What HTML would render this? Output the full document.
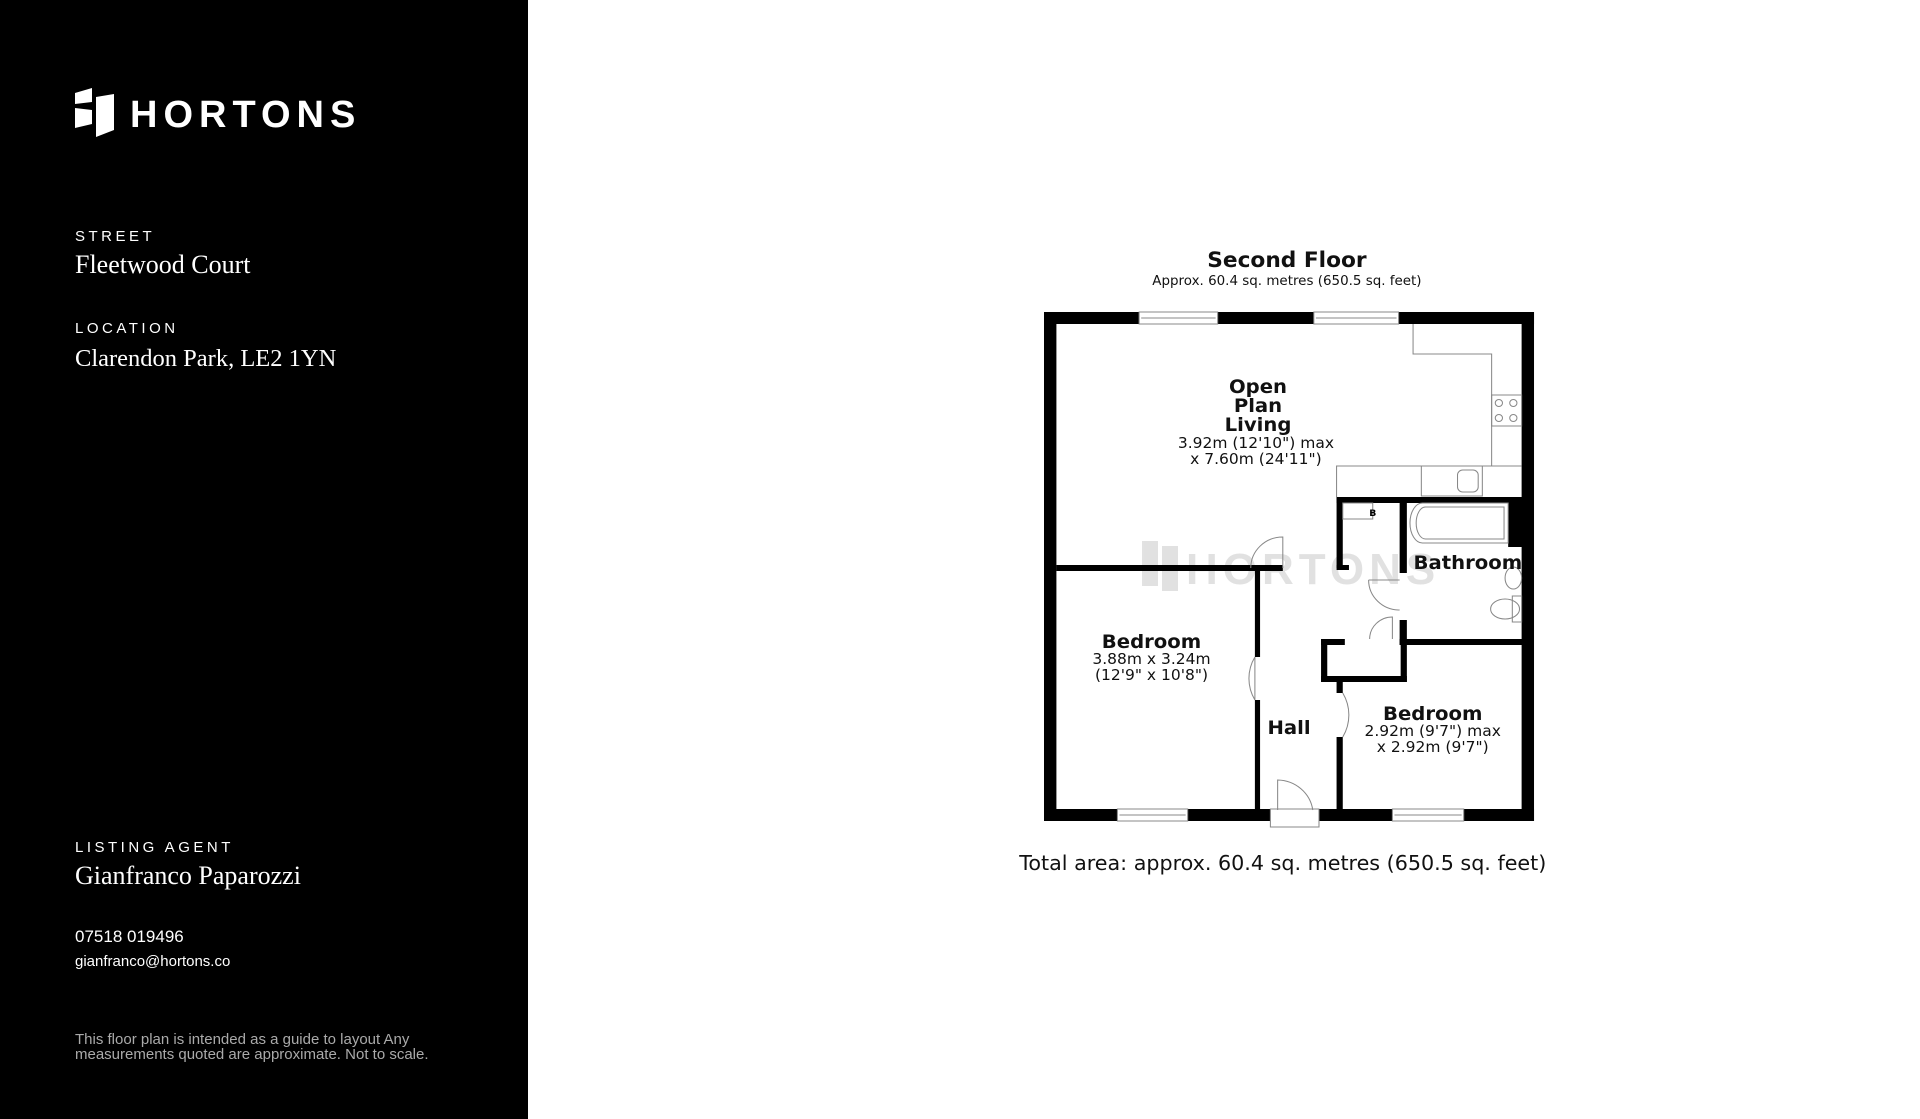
<!DOCTYPE html>
<html><head><meta charset="utf-8"><style>
html,body{margin:0;padding:0;width:1920px;height:1119px;overflow:hidden;background:#fff}
svg{display:block}
.l{font-family:"Liberation Sans",sans-serif;fill:#fff}
.p{font-family:"DejaVu Sans",sans-serif;fill:#111;text-anchor:middle}
</style></head><body>
<svg width="1920" height="1119" viewBox="0 0 1920 1119" xmlns="http://www.w3.org/2000/svg">
<rect x="0" y="0" width="528" height="1119" fill="#000"/>
<polygon points="75,93 92,88 92,102 75,104" fill="#fff"/>
<polygon points="75,108 92,110 92,124 75,128" fill="#fff"/>
<polygon points="96,97 114,94 114,130 96,137" fill="#fff"/>
<text x="130" y="127" class="l" font-size="38" font-weight="600" letter-spacing="6">HORTONS</text>
<text x="75" y="241" class="l" font-size="15" letter-spacing="3.5">STREET</text>
<text x="75" y="273" class="l" font-size="26" style="font-family:'Liberation Serif',serif">Fleetwood Court</text>
<text x="75" y="333" class="l" font-size="15" letter-spacing="3.5">LOCATION</text>
<text x="75" y="366" class="l" font-size="24.5" style="font-family:'Liberation Serif',serif">Clarendon Park, LE2 1YN</text>
<text x="75" y="852" class="l" font-size="15" letter-spacing="3.5">LISTING AGENT</text>
<text x="75" y="884" class="l" font-size="26" style="font-family:'Liberation Serif',serif">Gianfranco Paparozzi</text>
<text x="75" y="942" class="l" font-size="17">07518 019496</text>
<text x="75" y="966" class="l" font-size="15">gianfranco@hortons.co</text>
<text x="75" y="1044" class="l" font-size="15" style="fill:#aaa">This floor plan is intended  as a guide to layout Any</text>
<text x="75" y="1059" class="l" font-size="15" style="fill:#aaa">measurements quoted are approximate. Not to scale.</text>

<g opacity="0.14">
<rect x="1142" y="541" width="16" height="45" fill="#333"/>
<rect x="1162" y="546" width="16" height="45" fill="#333"/>
<text x="1186" y="584" font-family="Liberation Sans" font-size="44" font-weight="bold" letter-spacing="5" fill="#333">HORTONS</text>
</g>

<g transform="translate(1044,0) scale(1.0338,1) translate(-1044,0)">
<text x="1279" y="267" class="p" font-size="21" font-weight="bold">Second Floor</text>
<text x="1279" y="285" class="p" font-size="13">Approx. 60.4 sq. metres (650.5 sq. feet)</text>
<g fill="#000">
<rect x="1044" y="312" width="474" height="12"/>
<rect x="1044" y="312" width="12" height="509"/>
<rect x="1506" y="312" width="12" height="509"/>
<rect x="1044" y="809" width="474" height="12"/>
<rect x="1327" y="497" width="180" height="6"/>
<rect x="1493" y="497" width="14" height="50"/>
<rect x="1327" y="497" width="6" height="71"/>
<rect x="1327" y="565" width="12" height="5"/>
<rect x="1388" y="497" width="7" height="76"/>
<rect x="1056" y="565" width="219" height="6"/>
<rect x="1248" y="568" width="5" height="89"/>
<rect x="1248" y="700" width="5" height="109"/>
<rect x="1388" y="639" width="119" height="6"/>
<rect x="1388" y="620" width="7" height="25"/>
<rect x="1312" y="639" width="6" height="43"/>
<rect x="1312" y="639" width="23" height="6"/>
<rect x="1312" y="676" width="83" height="6"/>
<rect x="1389" y="639" width="6" height="43"/>
<rect x="1327" y="680" width="6" height="13"/>
<rect x="1327" y="737" width="6" height="72"/>
</g>
<g fill="#fff" stroke="#888" stroke-width="1">
<rect x="1136" y="312" width="76" height="12"/>
<rect x="1305" y="312" width="82" height="12"/>
<rect x="1115" y="809" width="68" height="12"/>
<rect x="1381" y="809" width="69" height="12"/>
<rect x="1263" y="809" width="47" height="18"/>
</g>
<g stroke="#888" stroke-width="1">
<line x1="1138" y1="318" x2="1210" y2="318"/><line x1="1307" y1="318" x2="1385" y2="318"/>
<line x1="1117" y1="815" x2="1181" y2="815"/><line x1="1383" y1="815" x2="1448" y2="815"/>
</g>
<g fill="none" stroke="#888" stroke-width="1">
<polyline points="1401,324 1401,354 1477,354 1477,466"/>
<polyline points="1327,497 1327,466 1506,466"/>
<rect x="1477" y="395" width="29" height="31"/>
<circle cx="1484" cy="403" r="3.5"/><circle cx="1498" cy="403" r="3.5"/>
<circle cx="1484" cy="418" r="3.5"/><circle cx="1498" cy="418" r="3.5"/>
<rect x="1409" y="466" width="59" height="30"/>
<rect x="1444" y="470" width="20" height="22" rx="5"/>
<rect x="1333" y="503" width="29" height="16"/>
<path d="M1410,503 H1493 V543 H1410 A12,20 0 0 1 1410,503 Z"/>
<path d="M1413,507 H1489 V539 H1413 A9,16 0 0 1 1413,507 Z"/>
<ellipse cx="1498" cy="578" rx="8" ry="11"/>
<ellipse cx="1490" cy="609" rx="14" ry="10"/>
<rect x="1497" y="596" width="9" height="26"/>
<path d="M1275,568 L1275,537 A31,31 0 0 0 1244,568"/>
<path d="M1358,580 A30,30 0 0 0 1388,610"/>
<line x1="1358" y1="580" x2="1388" y2="580"/>
<path d="M1359,639 A22,22 0 0 1 1381,617 L1381,639"/>
<path d="M1248,657 A43,43 0 0 0 1248,700 M1248,657 L1248,700"/>
<path d="M1333,693 A44,44 0 0 1 1333,737"/>
<path d="M1270,810 L1270,780 A35,35 0 0 1 1304,810"/>
</g>
<text x="1362" y="516" font-family="DejaVu Sans" font-size="9" font-weight="bold" text-anchor="middle">B</text>
<text x="1251" y="393" class="p" font-size="19" font-weight="bold">Open</text>
<text x="1251" y="412" class="p" font-size="19" font-weight="bold">Plan</text>
<text x="1251" y="431" class="p" font-size="19" font-weight="bold">Living</text>
<text x="1249" y="448" class="p" font-size="15">3.92m (12'10") max</text>
<text x="1249" y="464" class="p" font-size="15">x 7.60m (24'11")</text>
<text x="1454" y="569" class="p" font-size="19" font-weight="bold">Bathroom</text>
<text x="1148" y="648" class="p" font-size="19" font-weight="bold">Bedroom</text>
<text x="1148" y="664" class="p" font-size="15">3.88m x 3.24m</text>
<text x="1148" y="680" class="p" font-size="15">(12'9" x 10'8")</text>
<text x="1281" y="734" class="p" font-size="19" font-weight="bold">Hall</text>
<text x="1420" y="720" class="p" font-size="19" font-weight="bold">Bedroom</text>
<text x="1420" y="736" class="p" font-size="15">2.92m (9'7") max</text>
<text x="1420" y="752" class="p" font-size="15">x 2.92m (9'7")</text>
<text x="1275" y="870" class="p" font-size="20">Total area: approx. 60.4 sq. metres (650.5 sq. feet)</text>
</g>
</svg>
</body></html>
